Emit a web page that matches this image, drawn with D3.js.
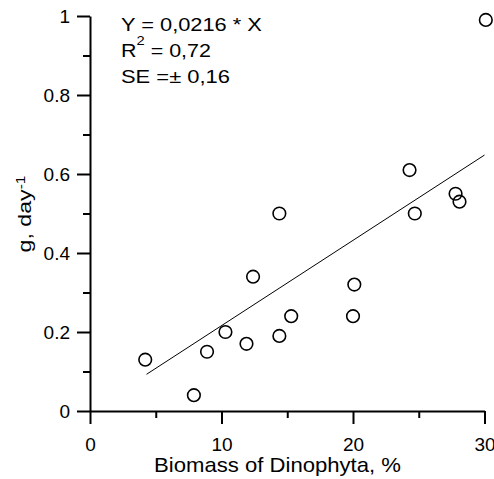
<!DOCTYPE html>
<html><head><meta charset="utf-8">
<script src="https://cdn.jsdelivr.net/npm/d3@7"></script>
<style>body{margin:0;background:#fff;}svg{display:block;}</style>
</head><body>
<svg id="chart" width="494" height="479"></svg>
<script>
// ---- data ----
const biomass = [4.2, 7.9, 8.9, 10.3, 11.9, 12.4, 14.4, 14.4, 15.3, 20.0, 20.1, 24.3, 24.7, 27.8, 28.1, 30.1];
const grazing = [0.13, 0.04, 0.15, 0.20, 0.17, 0.34, 0.50, 0.19, 0.24, 0.24, 0.32, 0.61, 0.50, 0.55, 0.53, 0.99];
const slope = 0.0216;
const fitRange = [4.3, 30];
const xMajor = [0, 10, 20, 30];
const xMinor = [5, 15, 25];
const yMajor = [0, 0.2, 0.4, 0.6, 0.8, 1];
const yMinor = [0.1, 0.3, 0.5, 0.7, 0.9];
const xTickLabels = ["0", "10", "20", "30"];
const yTickLabels = ["0", "0.2", "0.4", "0.6", "0.8", "1"];
const xTitle = "Biomass of Dinophyta, %";
const yTitle = ["g, day", "-1"];
const eqLines = [
  [["Y = 0,0216 * X", false]],
  [["R", false], ["2", true], [" = 0,72", false]],
  [["SE =\u00B1 0,16", false]]
];

// ---- layout ----
const FONT = "'Liberation Sans', Arial, Helvetica, sans-serif";
const svg = d3.select("#chart").style("font-family", FONT);
const x = d3.scaleLinear().domain([0, 30]).range([90, 484.5]);
const y = d3.scaleLinear().domain([0, 1]).range([411, 16]);

function styleAxis(g) {
  g.attr("font-family", FONT).attr("font-size", 19);
  g.selectAll("path.domain").attr("stroke", "#000").attr("stroke-width", 2);
  g.selectAll(".tick line").attr("stroke", "#000").attr("stroke-width", 2);
  g.selectAll(".tick text").attr("fill", "#000");
}

// minor ticks
svg.append("g").attr("transform", `translate(0,${y(0)})`)
  .call(d3.axisBottom(x).tickValues(xMinor).tickSize(7).tickSizeOuter(0).tickFormat(""))
  .call(styleAxis).call(g => g.select(".domain").remove());
svg.append("g").attr("transform", `translate(${x(0)},0)`)
  .call(d3.axisLeft(y).tickValues(yMinor).tickSize(7).tickSizeOuter(0).tickFormat(""))
  .call(styleAxis).call(g => g.select(".domain").remove());

// major axes
svg.append("g").attr("transform", `translate(0,${y(0)})`)
  .call(d3.axisBottom(x).tickValues(xMajor).tickSize(13).tickSizeOuter(0).tickPadding(14)
    .tickFormat((d, i) => xTickLabels[i]))
  .call(styleAxis);
svg.append("g").attr("transform", `translate(${x(0)},0)`)
  .call(d3.axisLeft(y).tickValues(yMajor).tickSize(13).tickSizeOuter(0).tickPadding(7)
    .tickFormat((d, i) => yTickLabels[i]))
  .call(styleAxis)
  .call(g => g.selectAll(".tick text").attr("dy", "0.36em"));

// regression line
svg.append("line")
  .attr("x1", x(fitRange[0])).attr("y1", y(slope * fitRange[0]))
  .attr("x2", x(fitRange[1])).attr("y2", y(slope * fitRange[1]))
  .attr("stroke", "#000").attr("stroke-width", 1);

// points
svg.append("g").selectAll("circle")
  .data(biomass.map((b, i) => [b, grazing[i]]))
  .join("circle")
  .attr("cx", d => x(d[0])).attr("cy", d => y(d[1]))
  .attr("r", 6.3).attr("fill", "none").attr("stroke", "#000").attr("stroke-width", 1.6);

// helper: horizontal stretch of text to a target length
function fit(text, target, base) {
  const len = text.node().getComputedTextLength();
  const s = target / len;
  text.attr("transform", base + ` scale(${s},1)`);
}

// equation
const eqBase = [31, 57, 83];
const eqTargets = [141, 90, 109];
eqLines.forEach((parts, li) => {
  const t = svg.append("text").attr("x", 0).attr("y", 0)
    .attr("font-size", 17.5).attr("fill", "#000");
  parts.forEach(([s, sup]) => {
    if (sup) t.append("tspan").attr("font-size", 12).attr("dy", -12).text(s);
    else {
      const ts = t.append("tspan").text(s);
      if (t.selectAll("tspan").size() > 1) ts.attr("dy", 12);
    }
  });
  fit(t, eqTargets[li], `translate(121,${eqBase[li]})`);
});

// x title
const xt = svg.append("text").attr("text-anchor", "middle").attr("font-size", 20)
  .attr("fill", "#000").text(xTitle);
fit(xt, 247, `translate(277.5,472)`);

// y title
const yt = svg.append("text").attr("text-anchor", "middle").attr("font-size", 18).attr("fill", "#000");
yt.append("tspan").text(yTitle[0]);
yt.append("tspan").attr("font-size", 12).attr("dy", -6).text(yTitle[1]);
fit(yt, 77, `translate(31,214) rotate(-90)`);
</script>
</body></html>
